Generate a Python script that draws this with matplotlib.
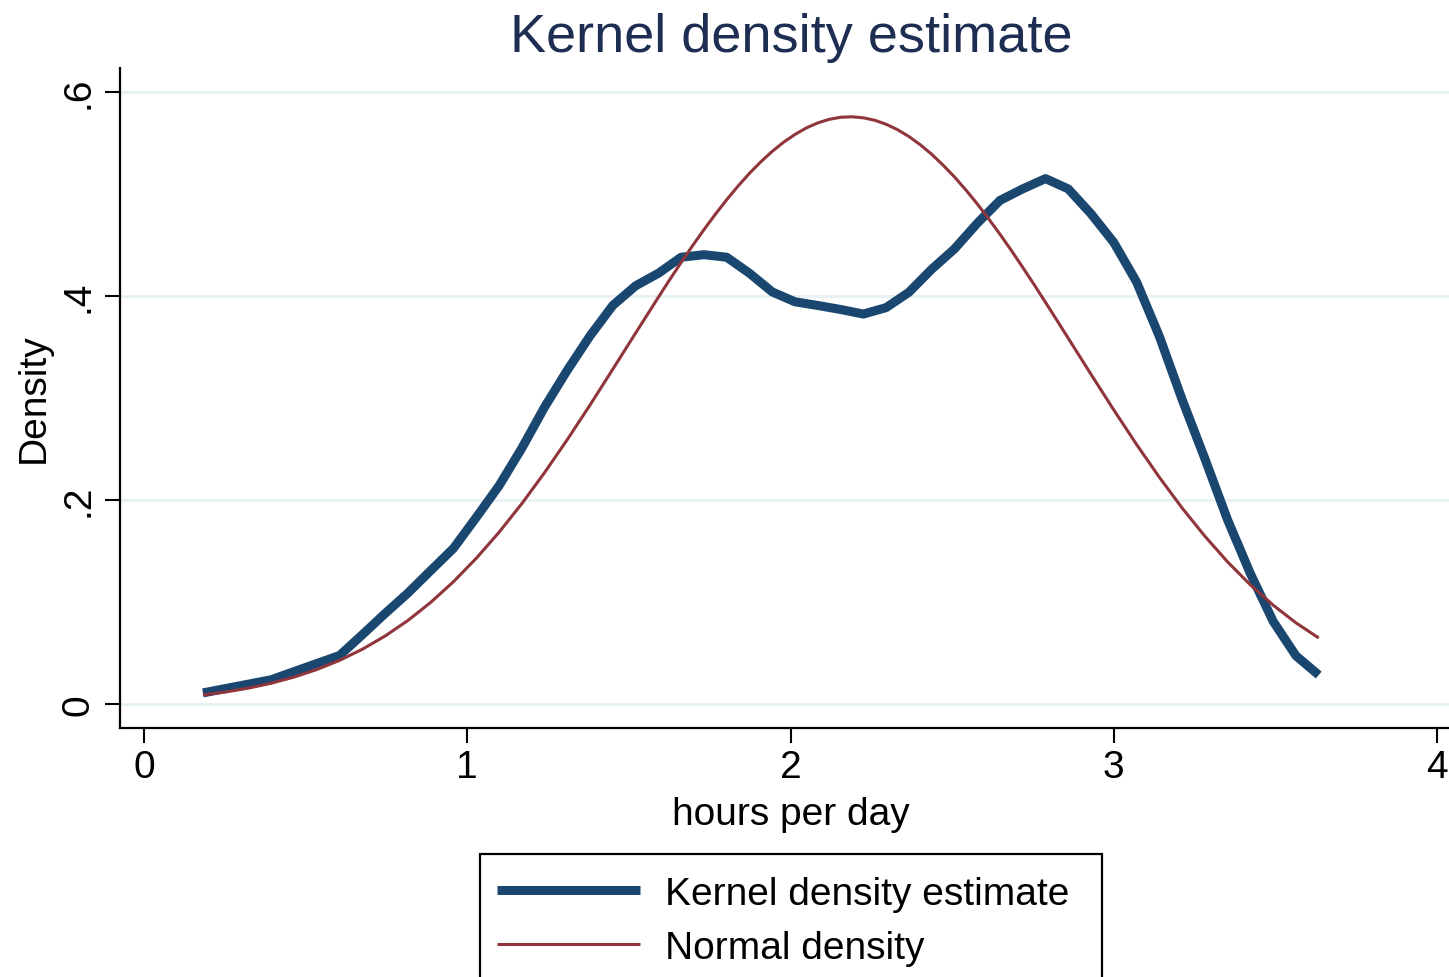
import matplotlib
matplotlib.use('Agg')
import matplotlib.pyplot as plt
from matplotlib.lines import Line2D
from matplotlib.patches import Rectangle

# ---------------- data ----------------
hours = [0.1825, 0.2529, 0.3234, 0.3938, 0.4643, 0.5347, 0.6051, 0.6756, 0.7460, 0.8165,
         0.8869, 0.9573, 1.0278, 1.0982, 1.1687, 1.2391, 1.3095, 1.3800, 1.4504, 1.5209,
         1.5913, 1.6617, 1.7322, 1.8026, 1.8731, 1.9435, 2.0139, 2.0844, 2.1548, 2.2253,
         2.2957, 2.3661, 2.4366, 2.5070, 2.5775, 2.6479, 2.7183, 2.7888, 2.8592, 2.9297,
         3.0001, 3.0705, 3.1410, 3.2114, 3.2819, 3.3523, 3.4227, 3.4932, 3.5636, 3.6341]

kernel_density = [0.0109, 0.0152, 0.0195, 0.0238, 0.0318, 0.0397, 0.0476, 0.0680, 0.0888, 0.1088,
                  0.1308, 0.1526, 0.1829, 0.2139, 0.2507, 0.2910, 0.3272, 0.3610, 0.3908, 0.4100,
                  0.4223, 0.4380, 0.4405, 0.4380, 0.4223, 0.4040, 0.3943, 0.3907, 0.3868, 0.3823,
                  0.3886, 0.4036, 0.4262, 0.4461, 0.4712, 0.4937, 0.5050, 0.5151, 0.5050, 0.4806,
                  0.4525, 0.4138, 0.3605, 0.2986, 0.2405, 0.1804, 0.1278, 0.0810, 0.0473, 0.0284]

normal_hours = [0.1825, 0.2529, 0.3234, 0.3938, 0.4643, 0.5347, 0.6051, 0.6756, 0.7460, 0.8165,
                0.8869, 0.9573, 1.0278, 1.0982, 1.1687, 1.2391, 1.3095, 1.3800, 1.4504, 1.5209,
                1.5913, 1.6265, 1.6617, 1.6970, 1.7322, 1.7674, 1.8026, 1.8378, 1.8731, 1.9083,
                1.9435, 1.9787, 2.0139, 2.0492, 2.0844, 2.1196, 2.1548, 2.1900, 2.2253, 2.2605,
                2.2957, 2.3309, 2.3661, 2.4014, 2.4366, 2.4718, 2.5070, 2.5422, 2.5775, 2.6127,
                2.6479, 2.6831, 2.7183, 2.7536, 2.7888, 2.8240, 2.8592, 2.9297, 3.0001, 3.0705,
                3.1410, 3.2114, 3.2819, 3.3523, 3.4227, 3.4932, 3.5636, 3.6341]

normal_density = [0.0089, 0.0118, 0.0156, 0.0204, 0.0264, 0.0338, 0.0428, 0.0537, 0.0667, 0.0819,
                  0.0996, 0.1199, 0.1428, 0.1683, 0.1964, 0.2268, 0.2592, 0.2932, 0.3283, 0.3637,
                  0.3988, 0.4161, 0.4329, 0.4493, 0.4650, 0.4801, 0.4944, 0.5078, 0.5203, 0.5316,
                  0.5418, 0.5508, 0.5584, 0.5648, 0.5697, 0.5732, 0.5752, 0.5757, 0.5747, 0.5723,
                  0.5684, 0.5631, 0.5564, 0.5483, 0.5390, 0.5284, 0.5168, 0.5041, 0.4904, 0.4758,
                  0.4606, 0.4447, 0.4281, 0.4112, 0.3938, 0.3763, 0.3586, 0.3232, 0.2883, 0.2545,
                  0.2223, 0.1922, 0.1645, 0.1393, 0.1168, 0.0969, 0.0796, 0.0647]

x_ticks = [0, 1, 2, 3, 4]
x_tick_labels = ['0', '1', '2', '3', '4']
y_ticks = [0, 0.2, 0.4, 0.6]
y_tick_labels = ['0', '.2', '.4', '.6']
title_text = 'Kernel density estimate'
x_label = 'hours per day'
y_label = 'Density'
legend_labels = ['Kernel density estimate', 'Normal density']

# ---------------- style ----------------
W, H = 1449, 978
BLUE = '#1a476f'
RED = '#90353b'
GRID = '#e8f1f3'
TITLE_COLOR = '#1e2d52'
FS = 28

plt.rcParams['font.family'] = ['Liberation Sans', 'DejaVu Sans']

fig = plt.figure(figsize=(W / 100, H / 100), dpi=100)
fig.patch.set_facecolor('white')
ax = fig.add_axes([120 / W, 1 - 729 / H, (1449 - 120) / W, (729 - 69) / H])

ax.plot(hours, kernel_density, color=BLUE, lw=6.5, solid_capstyle='butt',
        solid_joinstyle='round', zorder=3, label=legend_labels[0])
ax.plot(normal_hours, normal_density, color=RED, lw=2.2, solid_capstyle='butt',
        solid_joinstyle='round', zorder=4, label=legend_labels[1])

ax.set_xlim(-24 / 323.25, 1305 / 323.25)
ax.set_ylim(-24 / 1020, 636 / 1020)

ax.set_xticks(x_ticks)
ax.set_xticklabels(x_tick_labels)
ax.set_yticks(y_ticks)
ax.set_yticklabels(y_tick_labels)

ax.grid(axis='y', color=GRID, lw=2.2, zorder=0)
ax.set_axisbelow(True)

for s in ['top', 'right']:
    ax.spines[s].set_visible(False)
for s in ['left', 'bottom']:
    ax.spines[s].set_linewidth(1.6)
    ax.spines[s].set_color('black')

ax.tick_params(axis='x', length=11, width=1.5, labelsize=FS, pad=4, colors='black')
ax.tick_params(axis='y', length=11, width=1.5, labelsize=FS, pad=11.5, colors='black')
for lab in ax.get_yticklabels():
    lab.set_rotation(90)
    lab.set_rotation_mode('anchor')
    lab.set_ha('center')
    lab.set_va('baseline')

# title, axis titles
fig.text(791 / W, 1 - 52 / H, title_text, fontsize=39, color=TITLE_COLOR,
         ha='center', va='baseline')
fig.text(791 / W, 1 - 825 / H, x_label, fontsize=FS, color='black',
         ha='center', va='baseline')
fig.text(44 / W, 1 - 398 / H, y_label, fontsize=FS, color='black', rotation=90,
         rotation_mode='anchor', ha='center', va='baseline')

# legend (box runs off the bottom of the figure as in the original)
fig.add_artist(Rectangle((480 / W, 1 - 995 / H), 622 / W, 140 / H,
                         transform=fig.transFigure, facecolor='white',
                         edgecolor='black', lw=1.6, clip_on=False))
fig.add_artist(Line2D([497 / W, 640 / W], [1 - 891 / H] * 2, transform=fig.transFigure,
                      color=BLUE, lw=6.5, solid_capstyle='butt'))
fig.add_artist(Line2D([497 / W, 640 / W], [1 - 945 / H] * 2, transform=fig.transFigure,
                      color=RED, lw=2.2, solid_capstyle='butt'))
fig.text(665 / W, 1 - 905 / H, legend_labels[0], fontsize=FS, color='black', va='baseline')
fig.text(665 / W, 1 - 959 / H, legend_labels[1], fontsize=FS, color='black', va='baseline')

fig.savefig('out.png', dpi=100, facecolor='white')
